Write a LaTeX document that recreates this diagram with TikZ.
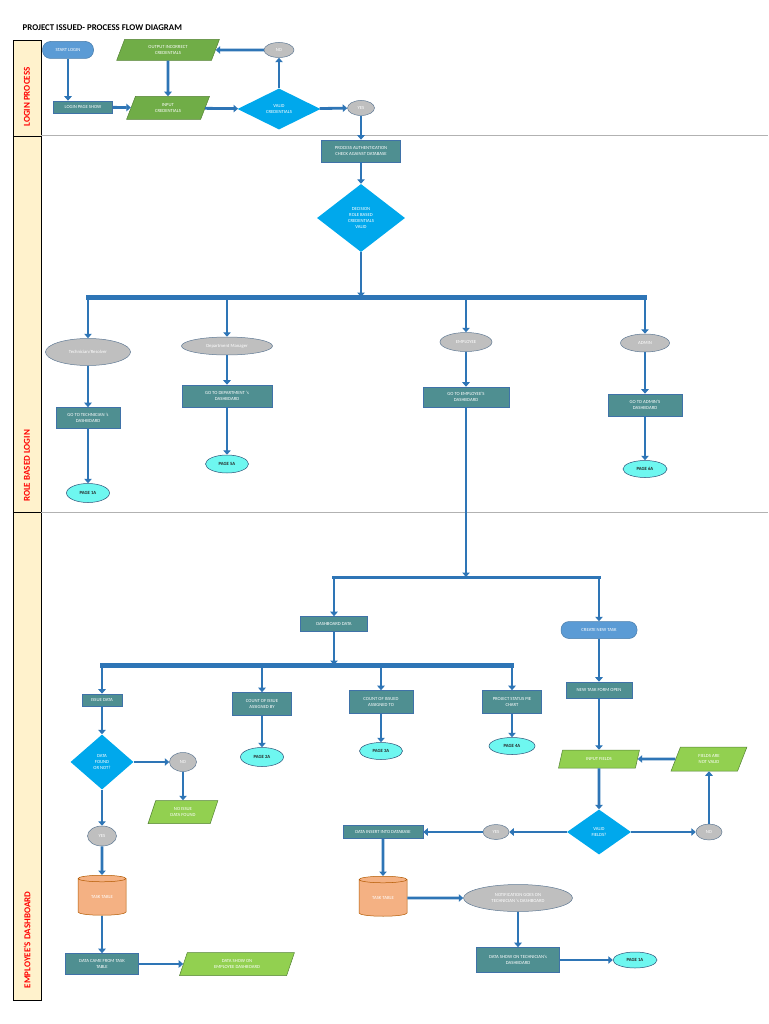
\documentclass[tikz,border=0pt]{standalone}
\usepackage{fontspec}
\setmainfont{Carlito}
\usetikzlibrary{shapes.geometric,arrows.meta}

\definecolor{flowblue}{HTML}{2E75B6}
\definecolor{tealbox}{HTML}{4F8F91}
\definecolor{tealline}{HTML}{3F72A8}
\definecolor{pillblue}{HTML}{5B9BD5}
\definecolor{skyblue}{HTML}{00A8EC}
\definecolor{leafgreen}{HTML}{70AD47}
\definecolor{limegreen}{HTML}{92D050}
\definecolor{pagecyan}{HTML}{6EF7F0}
\definecolor{lanefill}{HTML}{FFF2CC}
\definecolor{tableorange}{HTML}{F4B183}
\definecolor{tagrey}{HTML}{BFBFBF}

\tikzset{
  every node/.style={font=\fontsize{4.7}{6}\selectfont, text=white, align=center, inner sep=0.5pt},
  procbox/.style={rectangle, draw=tealline, line width=0.6pt, fill=tealbox},
  pillbox/.style={rectangle, rounded corners=8pt, draw=pillblue!80!black, line width=0.5pt, fill=pillblue},
  iobox/.style={trapezium, trapezium left angle=70, trapezium right angle=110, trapezium stretches=true,
    draw=leafgreen!75!black, line width=0.5pt, fill=#1},
  choice/.style={diamond, fill=skyblue, inner sep=0pt},
  tagoval/.style={ellipse, draw=tealline!50!gray, line width=0.5pt, fill=tagrey, inner sep=0pt},
  pageoval/.style={ellipse, draw=tealline!70!black, line width=0.5pt, fill=pagecyan, inner sep=0pt,
    text=black!85, font=\fontsize{4.7}{6}\selectfont\bfseries},
  tablecyl/.style={cylinder, shape border rotate=90, aspect=0.3, draw=orange!70!black, line width=0.5pt,
    fill=tableorange, inner sep=0pt},
  lanebox/.style={draw=black, line width=0.8pt, fill=lanefill},
  lanetext/.style={rotate=90, text=red, font=\fontsize{9}{10}\selectfont\bfseries},
  flow/.style={draw=flowblue, line width=2.8pt, -{Triangle[length=4.5pt,width=7.5pt]}},
  bus/.style={draw=flowblue, line width=5pt}
}

\begin{document}
\begin{tikzpicture}[x=1pt,y=-1pt]
\useasboundingbox (0,0) rectangle (768,1024);

\node[anchor=west, text=black, font=\fontsize{8.8}{10}\selectfont\bfseries] (title) at (22,28) {PROJECT ISSUED- PROCESS FLOW DIAGRAM};

\draw[lanebox] (13,40) rectangle (41,136);
\draw[lanebox] (13,136) rectangle (41,512);
\draw[lanebox] (13,512) rectangle (41,1000);
\draw[gray!60, line width=1pt] (41,136) -- (768,136);
\draw[gray!60, line width=1pt] (41,512) -- (768,512);
\node[lanetext] (laneA) at (27,97) {LOGIN PROCESS};
\node[lanetext] (laneB) at (27,466) {ROLE BASED LOGIN};
\node[lanetext] (laneC) at (27,940) {EMPLOYEE`S DASHBOARD};

\node[pillbox, minimum width=51, minimum height=17] (start) at (68,50) {START LOGIN};
\node[procbox, minimum width=59, minimum height=12] (loginpage) at (83,107) {LOGIN PAGE SHOW};
\node[iobox=leafgreen, minimum width=103, minimum height=21] (output) at (168,50) {OUTPUT INCORRECT\\CREDENTIALS};
\node[iobox=leafgreen, minimum width=83, minimum height=23] (input) at (168,108) {INPUT\\CREDENTIALS};
\node[choice, minimum width=83, minimum height=41] (validcred) at (279,109) {VALID\\CREDENTIALS};
\node[tagoval, minimum width=30, minimum height=15] (nologin) at (279,50) {NO};
\node[tagoval, minimum width=27, minimum height=15] (yeslogin) at (361,108) {YES};

\draw[flow] (start) -- (start |- loginpage.north);
\draw[flow] (loginpage) -- (input);
\draw[flow] (output) -- (input);
\draw[flow] (input) -- (validcred);
\draw[flow] (validcred) -- (nologin);
\draw[flow] (nologin) -- (output);
\draw[flow] (validcred) -- (yeslogin);

\node[procbox, minimum width=79, minimum height=22] (auth) at (361,151) {PROCESS AUTHENTICATION\\CHECK AGAINST DATABASE};
\node[choice, minimum width=88, minimum height=68] (roledec) at (361,218) {DECISION\\ROLE BASED\\CREDENTIALS\\VALID};
\coordinate (busA) at (361,297);
\coordinate (busAL) at (86,297);
\coordinate (busAR) at (647,297);

\draw[flow] (yeslogin) -- (auth);
\draw[flow] (auth) -- (roledec);
\draw[flow] (roledec) -- (busA);
\draw[bus] (busAL) -- (busAR);

\node[tagoval, minimum width=85, minimum height=27] (tech) at (88,352) {Technician/Resolver};
\node[tagoval, minimum width=91, minimum height=18] (dept) at (227,346) {Department Manager};
\node[tagoval, minimum width=52, minimum height=19] (emp) at (466,342) {EMPLOYEE};
\node[tagoval, minimum width=49, minimum height=18] (admin) at (645,343) {ADMIN};

\node[procbox, minimum width=64, minimum height=21] (techdash) at (88,418) {GO TO TECHNICIAN `s\\DASHBOARD};
\node[procbox, minimum width=90, minimum height=22] (deptdash) at (227,396) {GO TO DEPARTMENT `s\\DASHBOARD};
\node[procbox, minimum width=86, minimum height=20] (empdash) at (466,397) {GO TO EMPLOYEE'S\\DASHBOARD};
\node[procbox, minimum width=74, minimum height=22] (admindash) at (645,405) {GO TO ADMIN'S\\DASHBOARD};

\node[pageoval, minimum width=43, minimum height=19] (pageA) at (88,493) {PAGE 1A};
\node[pageoval, minimum width=43, minimum height=18] (pageE) at (227,464) {PAGE 5A};
\node[pageoval, minimum width=44, minimum height=17] (pageF) at (645,469) {PAGE 6A};

\draw[flow] (tech |- busA) -- (tech);
\draw[flow] (dept |- busA) -- (dept);
\draw[flow] (emp |- busA) -- (emp);
\draw[flow] (admin |- busA) -- (admin);
\draw[flow] (tech) -- (techdash);
\draw[flow] (dept) -- (deptdash);
\draw[flow] (emp) -- (empdash);
\draw[flow] (admin) -- (admindash);
\draw[flow] (techdash) -- (pageA);
\draw[flow] (deptdash) -- (pageE);
\draw[flow] (admindash) -- (pageF);

\coordinate (busB) at (466,577);
\coordinate (busBL) at (332,577);
\coordinate (busBR) at (601,577);
\node[procbox, minimum width=67, minimum height=15] (dashdata) at (334,624) {DASHBOARD DATA};
\node[pillbox, minimum width=76, minimum height=17] (newtask) at (599,630) {CREATE NEW TASK};

\draw[flow] (empdash) -- (busB);
\draw[flow, line width=3pt, -] (busBL) -- (busBR);
\draw[flow] (dashdata |- busB) -- (dashdata);
\draw[flow] (newtask |- busB) -- (newtask);

\coordinate (busC) at (334,665);
\coordinate (busCL) at (100,665);
\coordinate (busCR) at (514,665);
\node[procbox, minimum width=40, minimum height=12] (issue) at (102,700) {ISSUE DATA};
\node[procbox, minimum width=59, minimum height=23] (countby) at (262,704) {COUNT OF ISSUE\\ASSIGNED BY};
\node[procbox, minimum width=64, minimum height=23] (countto) at (381,702) {COUNT OF ISSUED\\ASSIGNED TO};
\node[procbox, minimum width=59, minimum height=23] (pie) at (512,702) {PROJECT STATUS PIE\\CHART};
\node[pageoval, minimum width=43, minimum height=19] (pageB) at (262,757) {PAGE 2A};
\node[pageoval, minimum width=43, minimum height=17] (pageC) at (381,751) {PAGE 3A};
\node[pageoval, minimum width=46, minimum height=17] (pageD) at (512,746) {PAGE 4A};

\draw[flow] (dashdata) -- (busC);
\draw[bus] (busCL) -- (busCR);
\draw[flow] (issue |- busC) -- (issue);
\draw[flow] (countby |- busC) -- (countby);
\draw[flow] (countto |- busC) -- (countto);
\draw[flow] (pie |- busC) -- (pie);
\draw[flow] (countby) -- (pageB);
\draw[flow] (countto) -- (pageC);
\draw[flow] (pie) -- (pageD);

\node[choice, minimum width=63, minimum height=55] (found) at (102,762) {DATA\\FOUND\\OR NOT?};
\node[tagoval, minimum width=27, minimum height=19] (nofound) at (183,762) {NO};
\node[iobox=limegreen, minimum width=70, minimum height=23] (noissue) at (183,812) {NO ISSUE\\DATA FOUND};
\node[tagoval, minimum width=29, minimum height=20] (yesfound) at (102,836) {YES};
\node[tablecyl, minimum width=48, minimum height=40] (tableA) at (102,897) {TASK TABLE};
\node[procbox, minimum width=73, minimum height=21] (came) at (102,964) {DATA CAME FROM TASK\\TABLE};
\node[iobox=limegreen, minimum width=115, minimum height=23] (empshow) at (237,964) {DATA SHOW ON\\EMPLOYEE DASHBOARD};

\draw[flow] (issue) -- (found);
\draw[flow] (found) -- (nofound);
\draw[flow] (nofound) -- (noissue);
\draw[flow] (found) -- (yesfound);
\draw[flow] (yesfound) -- (tableA);
\draw[flow] (tableA) -- (came);
\draw[flow] (came) -- (empshow);

\node[procbox, minimum width=66, minimum height=16] (taskform) at (599,690) {NEW TASK FORM OPEN};
\node[iobox=limegreen, minimum width=81, minimum height=18] (fields) at (599,759) {INPUT FIELDS};
\node[iobox=limegreen, minimum width=76, minimum height=24] (badfields) at (709,759) {FIELDS ARE\\NOT VALID};
\node[choice, minimum width=64, minimum height=45] (validf) at (599,832) {VALID\\FIELDS?};
\node[tagoval, minimum width=26, minimum height=16] (nofield) at (709,832) {NO};
\node[tagoval, minimum width=26, minimum height=15] (yesfield) at (496,832) {YES};
\node[procbox, minimum width=80, minimum height=13] (insert) at (383,832) {DATA INSERT INTO DATABASE};
\node[tablecyl, minimum width=48, minimum height=40] (tableB) at (383,898) {TASK TABLE};
\node[tagoval, minimum width=109, minimum height=27] (notify) at (518,898) {NOTIFICATION GOES ON\\TECHNICIAN `s DASHBOARD};
\node[procbox, minimum width=83, minimum height=25] (techshow) at (518,960) {DATA SHOW ON TECHNICIAN`s\\DASHBOARD};
\node[pageoval, minimum width=44, minimum height=16] (pageG) at (635,960) {PAGE 1A};

\draw[flow] (newtask) -- (taskform);
\draw[flow] (taskform) -- (fields);
\draw[flow] (fields) -- (validf);
\draw[flow] (validf) -- (nofield);
\draw[flow] (nofield) -- (badfields);
\draw[flow] (badfields) -- (fields);
\draw[flow] (validf) -- (yesfield);
\draw[flow] (yesfield) -- (insert);
\draw[flow] (insert) -- (tableB);
\draw[flow] (tableB) -- (notify);
\draw[flow] (notify) -- (techshow);
\draw[flow] (techshow) -- (pageG);
\end{tikzpicture}
\end{document}
